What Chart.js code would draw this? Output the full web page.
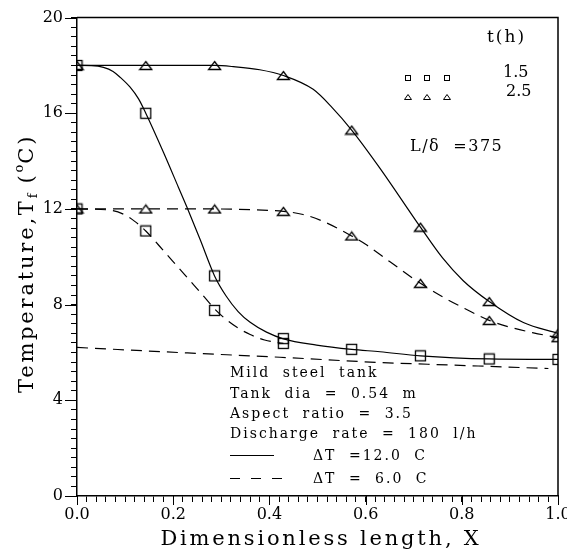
<!DOCTYPE html>
<html>
<head>
<meta charset="utf-8">
<script src="https://cdn.jsdelivr.net/npm/chart.js@4.4.1/dist/chart.umd.min.js"></script>
<style>
  body { margin: 0; background: #fff; }
</style>
</head>
<body>
<canvas id="chart" width="567" height="554"></canvas>
<script>
// marker positions along the tank (X) and temperatures
const nodeX = [0, 0.143, 0.286, 0.429, 0.571, 0.714, 0.857, 1.0];
const sq12Y = [18.0, 16.0, 9.2, 6.58, 6.13, 5.86, 5.73, 5.71];
const tri12Y = [18.0, 18.0, 18.0, 17.58, 15.3, 11.24, 8.13, 6.8];
const sq6Y = [12.0, 11.08, 7.76, 6.38];
const tri6Y = [12.0, 12.0, 12.0, 11.9, 10.87, 8.89, 7.34, 6.62];

// curve traces
const sq12CurveX = [0, 0.03, 0.055, 0.075, 0.09, 0.11, 0.128, 0.143, 0.179, 0.211, 0.228, 0.256, 0.286, 0.31, 0.335, 0.36, 0.394, 0.429, 0.498, 0.571, 0.63, 0.714, 0.857, 1.0];
const sq12CurveY = [18, 17.99, 17.92, 17.75, 17.5, 17.1, 16.6, 16.0, 14.4, 12.9, 12.1, 10.72, 9.2, 8.36, 7.71, 7.26, 6.85, 6.57, 6.31, 6.13, 6.03, 5.86, 5.73, 5.71];
const sq6CurveX = [0, 0.069, 0.1, 0.12, 0.143, 0.183, 0.212, 0.243, 0.265, 0.288, 0.31, 0.335, 0.36, 0.39, 0.429];
const sq6CurveY = [12, 11.95, 11.75, 11.48, 11.08, 10.18, 9.52, 8.82, 8.31, 7.78, 7.38, 7.02, 6.75, 6.52, 6.38];
const tri12CurveX = [0, 0.143, 0.286, 0.325, 0.38, 0.429, 0.491, 0.53, 0.571, 0.63, 0.714, 0.76, 0.803, 0.857, 0.928, 1.0];
const tri12CurveY = [18, 18, 18, 17.95, 17.82, 17.58, 17.0, 16.25, 15.3, 13.7, 11.24, 9.95, 9.0, 8.13, 7.25, 6.8];
const tri6CurveX = [0, 0.143, 0.286, 0.36, 0.429, 0.47, 0.512, 0.571, 0.6, 0.65, 0.714, 0.765, 0.806, 0.857, 0.896, 0.949, 1.0];
const tri6CurveY = [12, 12, 12, 11.97, 11.9, 11.77, 11.48, 10.87, 10.52, 9.8, 8.89, 8.27, 7.84, 7.34, 7.08, 6.82, 6.62];
const baseCurveX = [0, 0.23, 0.422, 0.63, 0.77, 0.98];
const baseCurveY = [6.21, 5.98, 5.8, 5.58, 5.48, 5.33];

const FONT = "'DejaVu Serif', serif";

const pts = (xs, ys) => ys.map((v, i) => ({ x: xs[i], y: v }));

function squareMark(size, lw) {
  const c = document.createElement("canvas");
  const n = Math.ceil(size + lw * 2);
  c.width = c.height = n;
  const g = c.getContext("2d");
  g.strokeStyle = "#000";
  g.lineWidth = lw;
  const o = (n - size) / 2;
  g.strokeRect(o, o, size, size);
  return c;
}

function triMark(w, h, lw) {
  const c = document.createElement("canvas");
  c.width = Math.ceil(w + lw * 2);
  c.height = Math.ceil(h + lw * 2);
  const g = c.getContext("2d");
  g.strokeStyle = "#000";
  g.lineWidth = lw;
  const ox = (c.width - w) / 2, oy = (c.height - h) / 2;
  g.beginPath();
  g.moveTo(ox + w / 2, oy);
  g.lineTo(ox + w, oy + h);
  g.lineTo(ox, oy + h);
  g.closePath();
  g.stroke();
  return c;
}

const sqBig = squareMark(10, 1.3);
const triBig = triMark(12, 8, 1.3);

const curve = (data, dashed) => ({
  data: data,
  showLine: true,
  borderColor: "#000",
  borderWidth: 1.2,
  borderDash: dashed ? [11, 7] : [],
  pointRadius: 0,
  cubicInterpolationMode: "monotone",
});

const marks = (data, style) => ({
  data: data,
  showLine: false,
  pointStyle: style,
  pointRadius: 5,
  borderColor: "#000",
  backgroundColor: "rgba(0,0,0,0)",
});

const isMajor = (v, step) => Math.abs(v / step - Math.round(v / step)) < 1e-6;

const decor = {
  id: "decor",
  afterDraw(chart) {
    const { ctx, chartArea: a, scales } = chart;
    ctx.save();
    ctx.strokeStyle = "#000";
    ctx.fillStyle = "#000";

    // top and right frame
    ctx.lineWidth = 1.5;
    ctx.beginPath();
    ctx.moveTo(a.left, a.top);
    ctx.lineTo(a.right, a.top);
    ctx.lineTo(a.right, a.bottom);
    ctx.stroke();

    // longer major ticks
    ctx.lineWidth = 1;
    scales.x.ticks.forEach(t => {
      if (!isMajor(t.value, 0.2)) return;
      const px = Math.round(scales.x.getPixelForValue(t.value)) + 0.5;
      ctx.beginPath();
      ctx.moveTo(px, a.bottom);
      ctx.lineTo(px, a.bottom + 9);
      ctx.stroke();
    });
    scales.y.ticks.forEach(t => {
      if (!isMajor(t.value, 4)) return;
      const py = Math.round(scales.y.getPixelForValue(t.value)) + 0.5;
      ctx.beginPath();
      ctx.moveTo(a.left, py);
      ctx.lineTo(a.left - 12, py);
      ctx.stroke();
    });

    // axis titles
    ctx.textBaseline = "middle";
    ctx.letterSpacing = "2.8px";
    ctx.font = "21px " + FONT;
    ctx.textAlign = "center";
    ctx.fillText("Dimensionless length, X", 321, 540);

    ctx.save();
    ctx.translate(28, 393);
    ctx.rotate(-Math.PI / 2);
    ctx.textAlign = "left";
    let cx = 0;
    ctx.font = "21px " + FONT;
    ctx.fillText("Temperature,T", cx, 0);
    cx += ctx.measureText("Temperature,T").width;
    ctx.font = "13px " + FONT;
    ctx.letterSpacing = "0px";
    ctx.fillText("f", cx, 6);
    cx += ctx.measureText("f").width + 10;
    ctx.font = "21px " + FONT;
    ctx.letterSpacing = "2.8px";
    ctx.fillText("(", cx, 0);
    cx += ctx.measureText("(").width;
    ctx.font = "13px " + FONT;
    ctx.letterSpacing = "0px";
    ctx.fillText("o", cx, -8);
    cx += ctx.measureText("o").width + 1;
    ctx.font = "21px " + FONT;
    ctx.letterSpacing = "2.8px";
    ctx.fillText("C)", cx, 0);
    ctx.restore();

    // t(h) legend
    ctx.textAlign = "left";
    ctx.font = "17px " + FONT;
    ctx.letterSpacing = "2px";
    ctx.fillText("t(h)", 487, 38);
    ctx.font = "16px " + FONT;
    ctx.letterSpacing = "0px";
    ctx.fillText("1.5", 503, 73);
    ctx.fillText("2.5", 506, 92);
    ctx.lineWidth = 1;
    [408, 427, 447].forEach(mx => {
      ctx.strokeRect(mx - 2.5, 75.5, 5, 5);
      ctx.beginPath();
      ctx.moveTo(mx, 94.5);
      ctx.lineTo(mx + 3.5, 99.5);
      ctx.lineTo(mx - 3.5, 99.5);
      ctx.closePath();
      ctx.stroke();
    });

    ctx.font = "16px " + FONT;
    ctx.letterSpacing = "1.5px";
    ctx.fillText("L/\u03b4  =375", 410, 147);

    // case description
    ctx.font = "14px " + FONT;
    ctx.letterSpacing = "2px";
    ctx.wordSpacing = "6px";
    ctx.fillText("Mild steel tank", 230, 373);
    ctx.fillText("Tank dia = 0.54 m", 230, 394);
    ctx.fillText("Aspect ratio = 3.5", 230, 414);
    ctx.fillText("Discharge rate = 180 l/h", 230, 434);
    ctx.fillText("\u0394T =12.0 C", 313, 456);
    ctx.fillText("\u0394T = 6.0 C", 313, 479);

    ctx.lineWidth = 1.2;
    ctx.beginPath();
    ctx.moveTo(230, 455.5);
    ctx.lineTo(274, 455.5);
    ctx.stroke();
    ctx.setLineDash([10, 11]);
    ctx.beginPath();
    ctx.moveTo(230, 478.5);
    ctx.lineTo(286, 478.5);
    ctx.stroke();
    ctx.restore();
  }
};

new Chart(document.getElementById("chart"), {
  type: "scatter",
  data: {
    datasets: [
      curve(pts(sq12CurveX, sq12CurveY), false),
      curve(pts(tri12CurveX, tri12CurveY), false),
      curve(pts(sq6CurveX, sq6CurveY), true),
      curve(pts(tri6CurveX, tri6CurveY), true),
      curve(pts(baseCurveX, baseCurveY), true),
      marks(pts(nodeX, sq12Y), sqBig),
      marks(pts(nodeX, sq6Y), sqBig),
      marks(pts(nodeX, tri12Y), triBig),
      marks(pts(nodeX, tri6Y), triBig),
    ]
  },
  options: {
    responsive: false,
    animation: false,
    events: [],
    layout: { padding: { top: 15, right: 9, left: 0, bottom: 0 } },
    plugins: { legend: { display: false }, tooltip: { enabled: false } },
    scales: {
      x: {
        type: "linear",
        min: 0,
        max: 1,
        afterFit: s => { s.height = 58; s.paddingLeft = 0; s.paddingRight = 0; },
        border: { color: "#000", width: 1.5 },
        grid: { drawOnChartArea: false, drawTicks: true, tickLength: 6, tickColor: "#000", tickWidth: 1 },
        ticks: {
          stepSize: 0.02,
          maxTicksLimit: 100,
          autoSkip: false,
          maxRotation: 0,
          padding: 3,
          color: "#000",
          font: { family: FONT, size: 16 },
          callback: v => isMajor(v, 0.2) ? v.toFixed(1) : ""
        }
      },
      y: {
        min: 0,
        max: 20,
        afterFit: s => { s.width = 77; },
        border: { color: "#000", width: 1.5 },
        grid: { drawOnChartArea: false, drawTicks: true, tickLength: 6, tickColor: "#000", tickWidth: 1 },
        ticks: {
          stepSize: 0.4,
          maxTicksLimit: 100,
          autoSkip: false,
          padding: 8,
          color: "#000",
          font: { family: FONT, size: 16 },
          callback: v => isMajor(v, 4) ? String(Math.round(v)) : ""
        }
      }
    }
  },
  plugins: [decor]
});
</script>
</body>
</html>
